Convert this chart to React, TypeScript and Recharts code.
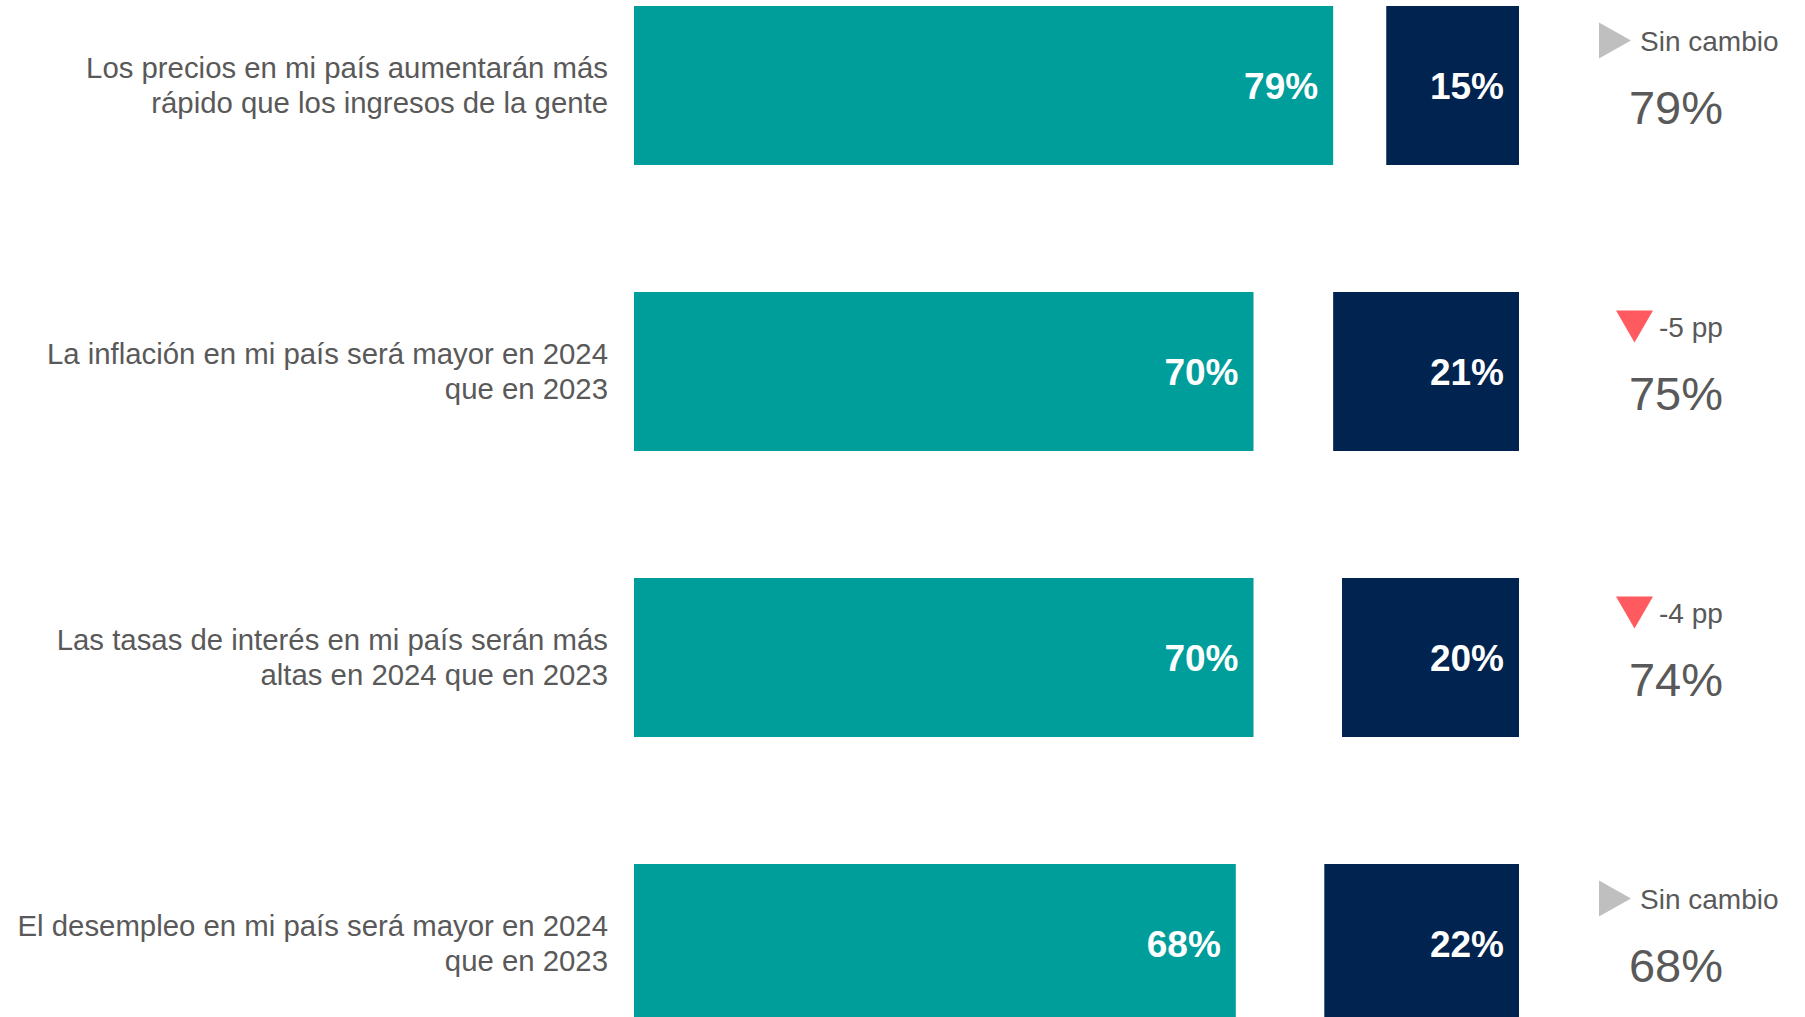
import { BarChart, Bar, XAxis, YAxis, LabelList } from 'recharts';

const categories = [
  'Los precios en mi país aumentarán más\nrápido que los ingresos de la gente',
  'La inflación en mi país será mayor en 2024\nque en 2023',
  'Las tasas de interés en mi país serán más\naltas en 2024 que en 2023',
  'El desempleo en mi país será mayor en 2024\nque en 2023',
];
const agree = [79, 70, 70, 68];
const disagree = [15, 21, 20, 22];
const totals = [79, 75, 74, 68];
const changes = ['Sin cambio', '-5 pp', '-4 pp', 'Sin cambio'];
const trends = ['flat', 'down', 'down', 'flat'];

const TEAL = '#009E9B';
const NAVY = '#00234F';
const GREY_TEXT = '#595959';
const FONT = '"Liberation Sans", Arial, sans-serif';

const rows = categories.map((c, i) => ({
  label: c,
  agree: agree[i],
  rest: 100 - agree[i] - disagree[i],
  disagree: disagree[i],
  total: totals[i],
  change: changes[i],
  trend: trends[i],
}));

const CategoryTick = (props: any) => {
  const { x, y, payload } = props;
  const lines = String(payload.value).split('\n');
  const lh = 34.5;
  const first = y - ((lines.length - 1) * lh) / 2 + 10.4;
  return (
    <text x={x} y={first} textAnchor="end" fill={GREY_TEXT} fontSize={29.35} fontFamily={FONT}>
      {lines.map((l, i) => (
        <tspan key={i} x={x} y={first + i * lh}>{l}</tspan>
      ))}
    </text>
  );
};

// navy bar plus the trend note to the right of it
const NavyShape = (p: any) => {
  const { x, y, width, height, payload } = p;
  const right = x + width;
  const cy = y + height / 2;
  const ty = cy - 45;
  const flat = payload.trend === 'flat';
  const triW = flat ? 32 : 37;
  const gap = flat ? 9 : 6;
  const left = right + (flat ? 80 : 97);
  const tri = flat
    ? `${left},${ty - 18} ${left + triW},${ty} ${left},${ty + 18}`
    : `${left},${ty - 16} ${left + triW},${ty - 16} ${left + triW / 2},${ty + 16}`;
  return (
    <g>
      <rect x={x} y={y} width={width} height={height} fill={NAVY} />
      <polygon points={tri} fill={flat ? '#BFBFBF' : '#FF5A5F'} />
      <text x={left + triW + gap} y={ty + 10} fill={GREY_TEXT} fontSize={28} fontFamily={FONT}>
        {payload.change}
      </text>
      <text x={right + 157} y={cy + 38} textAnchor="middle" fill={GREY_TEXT} fontSize={47} fontFamily={FONT}>
        {`${payload.total}%`}
      </text>
    </g>
  );
};

export default function App() {
  return (
    <div style={{ position: 'absolute', left: 0, top: 0, width: 1805, height: 1017, overflow: 'hidden', background: '#fff' }}>
      <div style={{ position: 'absolute', left: 0, top: -58.5 }}>
        <BarChart
          layout="vertical"
          width={1805}
          height={1144}
          data={rows}
          margin={{ top: 0, right: 286, bottom: 0, left: 0 }}
        >
          <XAxis type="number" domain={[0, 100]} hide />
          <YAxis
            type="category"
            dataKey="label"
            width={634}
            axisLine={false}
            tickLine={false}
            tickSize={0}
            tickMargin={26}
            tick={<CategoryTick />}
          />
          <Bar dataKey="agree" stackId="s" fill={TEAL} barSize={159} isAnimationActive={false}>
            <LabelList
              dataKey="agree"
              position="insideRight"
              offset={15}
              formatter={(v: any) => `${v}%`}
              fill="#fff"
              fontSize={37}
              fontWeight="bold"
              fontFamily={FONT}
            />
          </Bar>
          <Bar dataKey="rest" stackId="s" fill="transparent" barSize={159} isAnimationActive={false} />
          <Bar dataKey="disagree" stackId="s" fill={NAVY} barSize={159} shape={<NavyShape />} isAnimationActive={false}>
            <LabelList
              dataKey="disagree"
              position="insideRight"
              offset={15}
              formatter={(v: any) => `${v}%`}
              fill="#fff"
              fontSize={37}
              fontWeight="bold"
              fontFamily={FONT}
            />
          </Bar>
        </BarChart>
      </div>
    </div>
  );
}
